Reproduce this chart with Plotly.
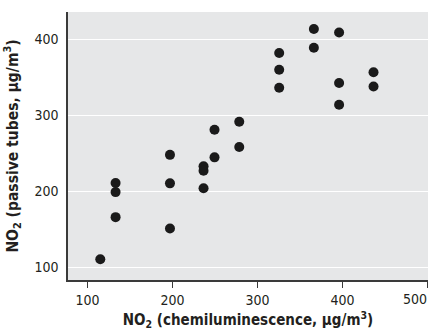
import plotly.graph_objects as go

chemi = [115, 133, 133, 133, 197, 197, 197, 236.5, 236.5, 236.5, 249.4, 249.4,
         278.5, 278.5, 325.5, 325.5, 325.5, 366.3, 366.3, 396, 396, 396, 436.5, 436.5]
passive = [110.5, 211, 199, 166, 248, 210.5, 151, 233, 227, 204, 281, 244.7,
           291.6, 258.3, 382, 360, 336.3, 413.6, 389, 409, 342.5, 314, 356.6, 338]
x_ticks = [100, 200, 300, 400, 500]
x_tick_labels = ["100", "200", "300", "400", ""]
x_end_tick = [500]
x_end_label = ["500"]
y_ticks = [100, 200, 300, 400]

FONT = "DejaVu Sans Condensed, Liberation Sans, Arial, sans-serif"
X_RANGE = [77, 500.6]

fig = go.Figure()
fig.add_trace(go.Scatter(
    x=chemi, y=passive, mode="markers",
    marker=dict(size=10, color="#1a1a1a", line=dict(width=0)),
))
# empty helper trace so the overlay axis carrying the right-aligned "500" label is drawn
fig.add_trace(go.Scatter(
    x=x_end_tick, y=[None], xaxis="x2", mode="markers",
    hoverinfo="skip", showlegend=False,
))

fig.update_layout(
    width=438, height=335,
    margin=dict(l=68, r=10, t=12, b=55),
    paper_bgcolor="white",
    plot_bgcolor="#e6e7e8",
    showlegend=False,
    font=dict(family=FONT, size=14, color="#231f20"),
    xaxis=dict(
        range=X_RANGE, tickvals=x_ticks, ticktext=x_tick_labels,
        automargin=False,
        showgrid=False, zeroline=False,
        showline=True, linecolor="#3a3a3a", linewidth=1.5,
        ticks="outside", ticklen=6, tickcolor="#3a3a3a", tickwidth=1,
        tickfont=dict(family=FONT, size=14),
        title=dict(text="NO<sub>2</sub> (chemiluminescence, μg/m<sup>3</sup>)",
                   font=dict(family=FONT, size=15, weight="bold"), standoff=8),
    ),
    xaxis2=dict(
        overlaying="x", anchor="y", side="bottom", range=X_RANGE, automargin=False,
        tickvals=x_end_tick, ticktext=x_end_label,
        ticklabelposition="outside left", ticks="outside", ticklen=6,
        ticklabelstandoff=6,
        tickcolor="rgba(0,0,0,0)",
        showline=False, showgrid=False, zeroline=False,
        tickfont=dict(family=FONT, size=14),
    ),
    yaxis=dict(
        range=[83.3, 436], tickvals=y_ticks, showgrid=True, gridcolor="white", gridwidth=1,
        automargin=False,
        zeroline=False, showline=True, linecolor="#3a3a3a", linewidth=1.5,
        ticks="", ticklabelstandoff=5,
        tickfont=dict(family=FONT, size=14),
        title=dict(text="NO<sub>2</sub> (passive tubes, μg/m<sup>3</sup>)",
                   font=dict(family=FONT, size=15.5, weight="bold"), standoff=12),
    ),
)

fig.write_html("out.html")
